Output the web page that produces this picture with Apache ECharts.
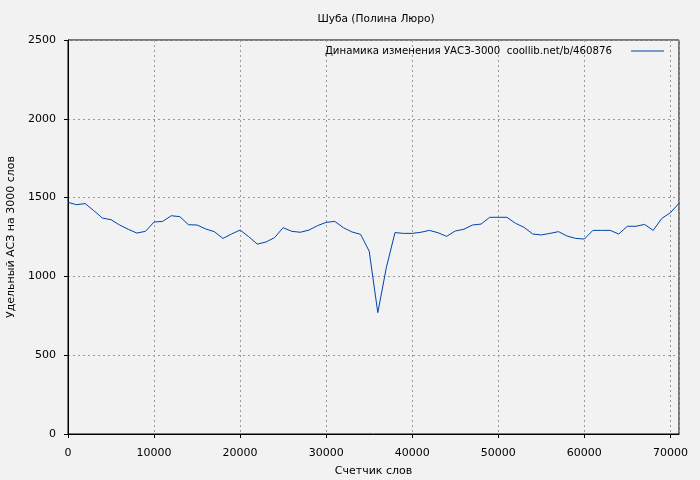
<!DOCTYPE html>
<html><head><meta charset="utf-8">
<script src="https://cdn.jsdelivr.net/npm/echarts@6/dist/echarts.min.js"></script>
<style>html,body{margin:0;padding:0;background:#f2f2f2;}#c{width:700px;height:480px;}</style>
</head><body><div id="c"></div>
<script>
const titleText = 'Шуба (Полина Люро)';
const seriesName = 'Динамика изменения УАСЗ-3000  coollib.net/b/460876';
const xName = 'Счетчик слов';
const yName = 'Удельный АСЗ на 3000 слов';
const words = [0,1000,2000,3000,4000,5000,6000,7000,8000,9000,10000,11000,12000,13000,14000,15000,16000,17000,18000,19000,20000,21000,22000,23000,24000,25000,26000,27000,28000,29000,30000,31000,32000,33000,34000,35000,36000,37000,38000,39000,40000,41000,42000,43000,44000,45000,46000,47000,48000,49000,50000,51000,52000,53000,54000,55000,56000,57000,58000,59000,60000,61000,62000,63000,64000,65000,66000,67000,68000,69000,70000,71000];
const values = [1470,1455,1462,1417,1370,1360,1326,1299,1275,1286,1345,1349,1385,1379,1328,1326,1301,1284,1241,1269,1294,1252,1205,1218,1246,1309,1286,1280,1294,1322,1343,1349,1309,1282,1267,1160,770,1058,1278,1273,1273,1280,1292,1277,1254,1288,1299,1326,1332,1375,1375,1375,1337,1311,1269,1263,1273,1284,1256,1241,1237,1292,1292,1292,1269,1318,1318,1330,1292,1368,1404,1464];

const font = 'DejaVu Sans';
const chart = echarts.init(document.getElementById('c'), null, {renderer:'canvas'});
chart.setOption({
  backgroundColor: '#f2f2f2',
  animation: false,
  title: {text: titleText, left: 371, top: 9, textAlign: 'center',
    textStyle: {fontFamily: font, fontSize: 10.6, fontWeight: 'normal', color: '#000'}},
  legend: {data: [{name: seriesName, icon: 'path://M0,0L33,0L33,1L0,1Z'}], right: 31, top: 41, align: 'right',
    itemWidth: 33, itemHeight: 1, itemGap: 0,
    textStyle: {fontFamily: font, fontSize: 10.2, color: '#000', padding: [0, 14, 0, 0]}},
  grid: {left: 68, top: 40, right: 21, bottom: 46, show: true, borderColor: '#000', borderWidth: 1,
    backgroundColor: 'transparent', containLabel: false, outerBoundsMode: 'none'},
  xAxis: {type: 'value', min: 0, max: 71000, interval: 10000,
    name: xName, nameLocation: 'middle', nameGap: 32,
    nameTextStyle: {fontFamily: font, fontSize: 11, color: '#000'},
    axisLine: {show: true, lineStyle: {color: '#000', width: 1}},
    axisTick: {show: true, inside: false, length: 4, lineStyle: {color: '#000'}},
    axisLabel: {fontFamily: font, fontSize: 11, color: '#000', margin: 14, showMaxLabel: false,
      formatter: v => String(v)},
    splitLine: {show: true, lineStyle: {color: '#999', type: [2, 3], width: 1}}},
  yAxis: {type: 'value', min: 0, max: 2500, interval: 500,
    name: yName, nameLocation: 'middle', nameGap: 51, nameRotate: 90,
    nameTextStyle: {fontFamily: font, fontSize: 11, color: '#000'},
    axisLine: {show: true, lineStyle: {color: '#000', width: 1}},
    axisTick: {show: true, inside: false, length: 4, lineStyle: {color: '#000'}},
    axisLabel: {fontFamily: font, fontSize: 11, color: '#000', margin: 12, formatter: v => String(v)},
    splitLine: {show: true, lineStyle: {color: '#999', type: [2, 3], width: 1}}},
  series: [{name: seriesName, type: 'line', data: words.map((w, i) => [w, values[i]]),
    symbol: 'none', lineStyle: {color: '#0044aa', width: 1}, itemStyle: {color: '#0044aa'}}]
});
</script></body></html>
